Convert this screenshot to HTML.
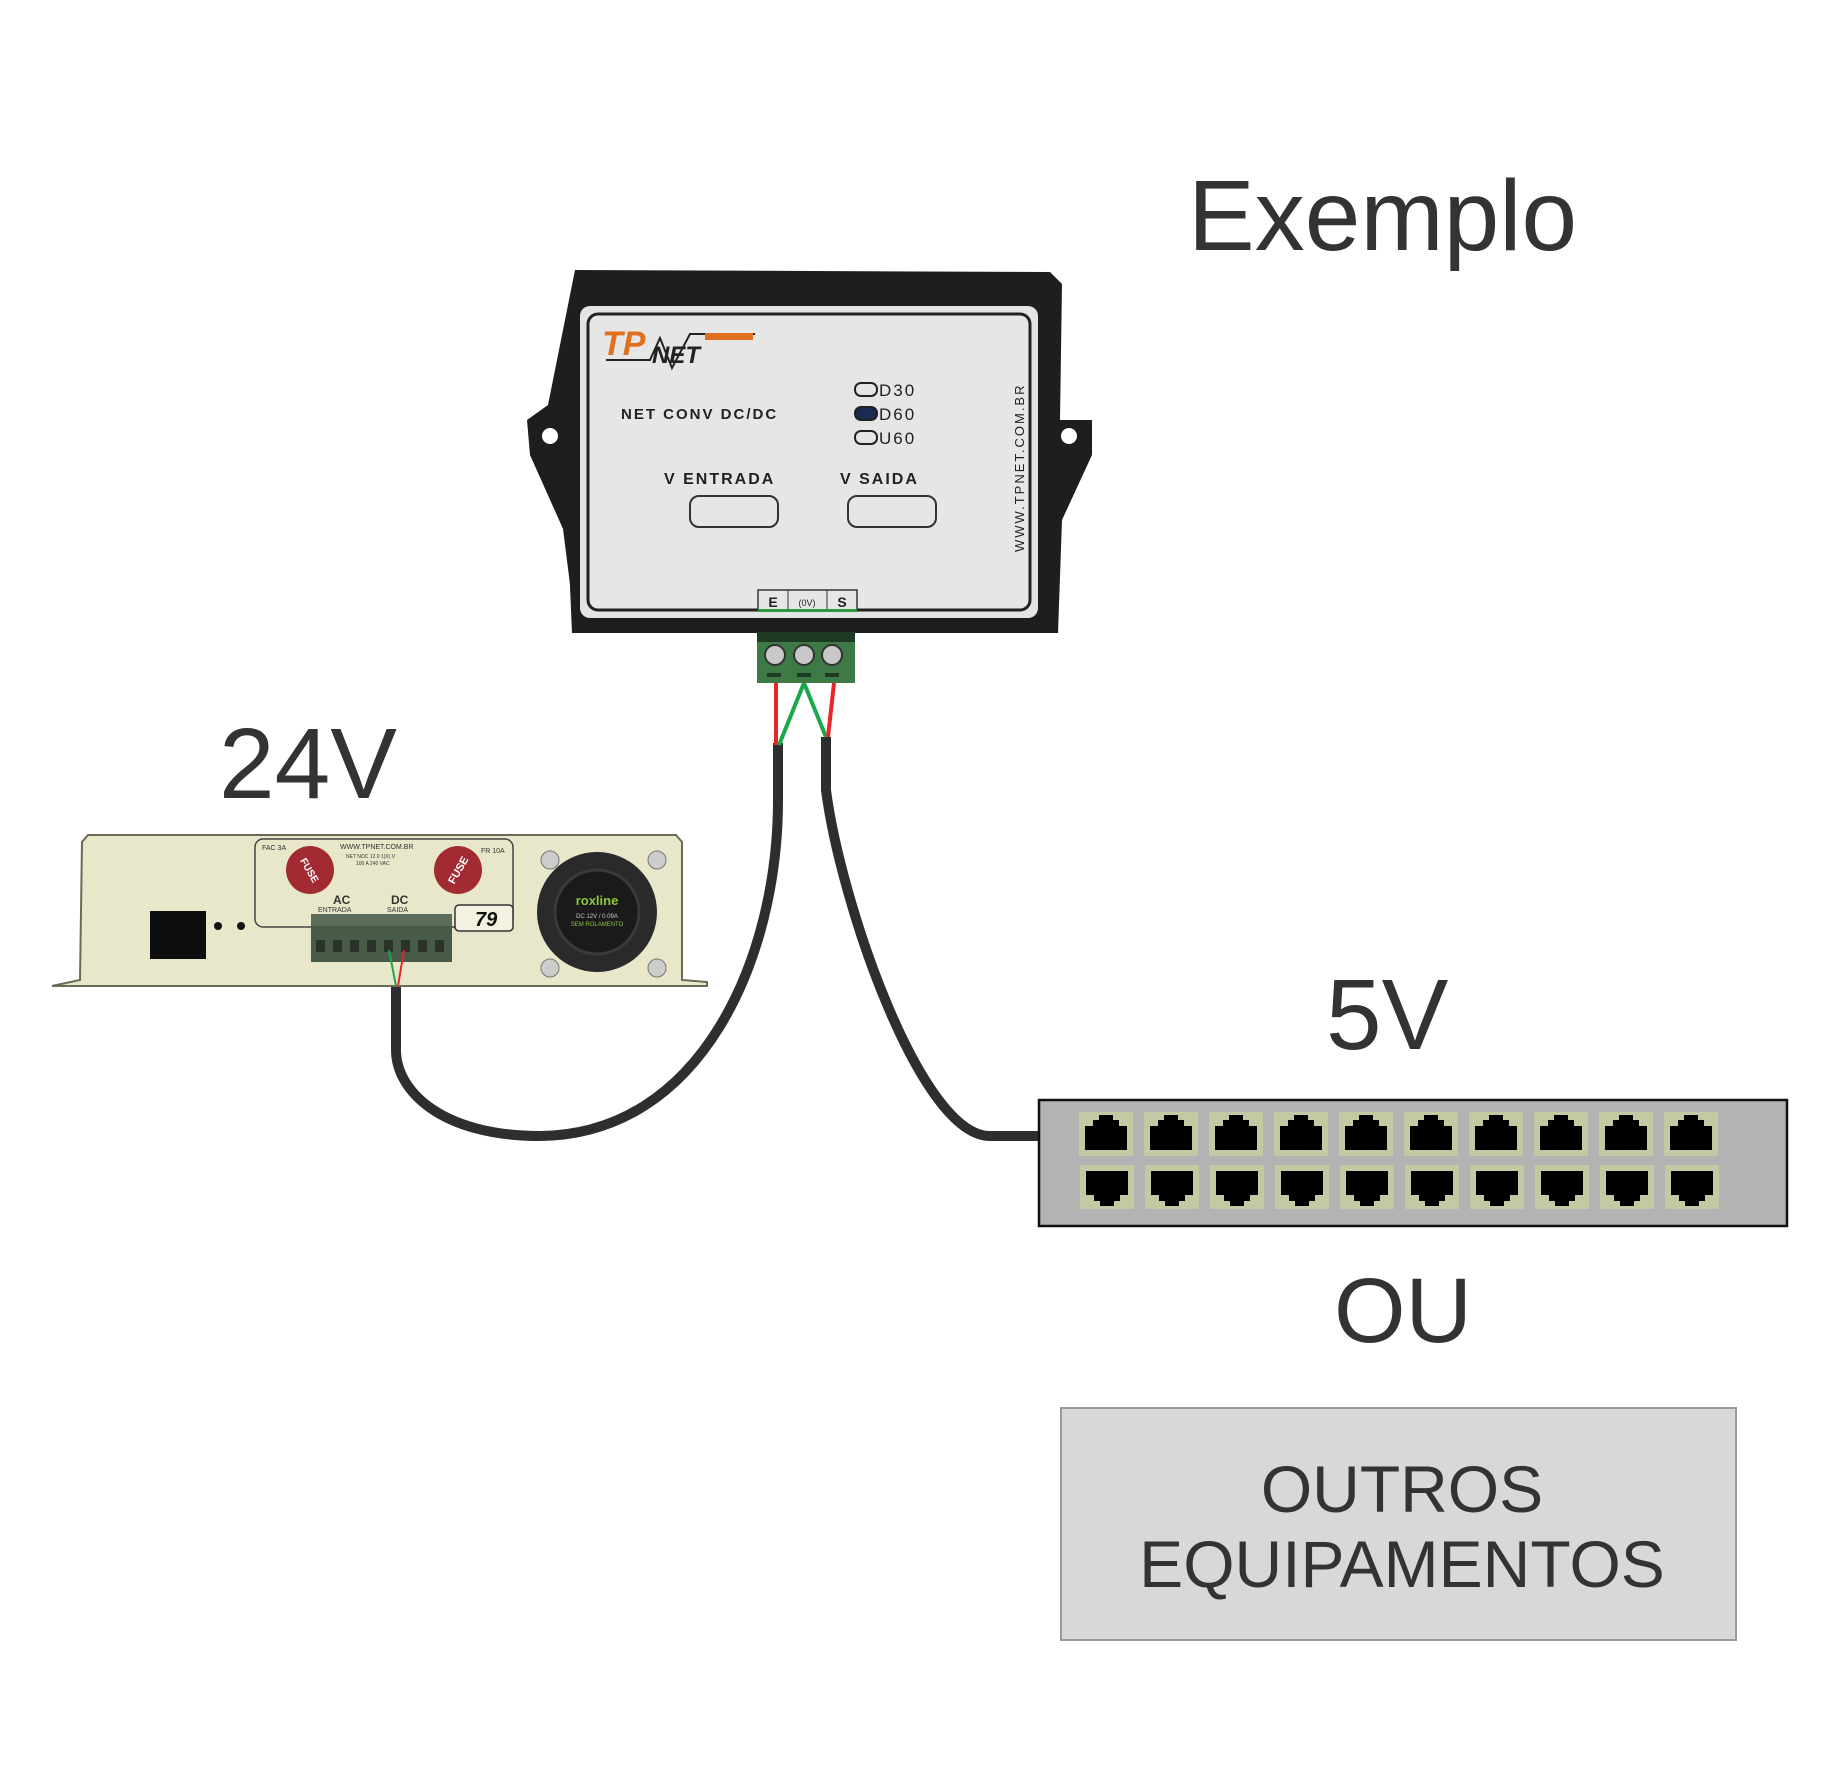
<!DOCTYPE html>
<html><head><meta charset="utf-8"><style>
html,body{margin:0;padding:0;background:#fff;}
svg{display:block;}
text{font-family:"Liberation Sans",Arial,sans-serif;}
</style></head><body>
<svg width="1825" height="1768" viewBox="0 0 1825 1768" xmlns="http://www.w3.org/2000/svg">
<rect width="1825" height="1768" fill="#fff"/>
<text x="1188" y="250" font-size="100" fill="#333">Exemplo</text>
<text x="219" y="798" font-size="100" fill="#333">24V</text>
<text x="1326" y="1049" font-size="100" fill="#333">5V</text>
<text x="1334" y="1342" font-size="92" fill="#333">OU</text>

<rect x="1061" y="1408" width="675" height="232" fill="#d8d8d6" stroke="#9a9a9a" stroke-width="2"/>
<text x="1402" y="1512" font-size="66" fill="#333" text-anchor="middle">OUTROS</text>
<text x="1402" y="1587" font-size="66" fill="#333" text-anchor="middle">EQUIPAMENTOS</text>

<path d="M778 743 L778 800 C778 960 700 1135 540 1136 C440 1136 396 1090 396 1050 L396 986" fill="none" stroke="#2e2e2e" stroke-width="10"/>
<path d="M826 737 L826 790 C840 900 920 1136 990 1136 L1040 1136" fill="none" stroke="#2e2e2e" stroke-width="10"/>
<line x1="776" y1="683" x2="776" y2="745" stroke="#e8262a" stroke-width="4"/>
<line x1="804" y1="683" x2="779" y2="745" stroke="#1aa84a" stroke-width="4"/>
<line x1="804" y1="683" x2="826" y2="737" stroke="#1aa84a" stroke-width="4"/>
<line x1="834" y1="683" x2="828" y2="737" stroke="#e8262a" stroke-width="4"/>

<path d="M575 270 L1050 272 L1062 284 L1060 420 L1092 420 L1092 455 L1062 520 L1058 633 L572 633 L568 540 L530 455 L527 420 L548 405 Z" fill="#1e1e1e"/>
<path d="M548 410 L572 290 L572 600 Z" fill="#1e1e1e"/>
<circle cx="550" cy="436" r="8" fill="#fff"/>
<circle cx="1069" cy="436" r="8" fill="#fff"/>
<rect x="580" y="306" width="458" height="312" rx="10" fill="#e4e4e4"/>
<rect x="588" y="314" width="442" height="296" rx="10" fill="#e6e6e6" stroke="#222" stroke-width="3"/>
<text x="602" y="355" font-size="34" font-weight="bold" font-style="italic" fill="#e07020">TP</text>
<text x="652" y="363" font-size="24" font-weight="bold" font-style="italic" fill="#222">NET</text>
<path d="M606 360 L650 360 L660 338 L672 368 L690 334 L755 334" fill="none" stroke="#222" stroke-width="2"/>
<rect x="705" y="333" width="48" height="7" fill="#e07020"/>
<text x="621" y="419" font-size="15" fill="#222" letter-spacing="2" font-weight="bold">NET CONV DC/DC</text>
<rect x="855" y="383" width="22" height="13" rx="6" fill="none" stroke="#222" stroke-width="2"/>
<rect x="855" y="407" width="22" height="13" rx="6" fill="#1a2a50" stroke="#222" stroke-width="2"/>
<rect x="855" y="431" width="22" height="13" rx="6" fill="none" stroke="#222" stroke-width="2"/>
<text x="879" y="396" font-size="17" fill="#222" letter-spacing="2">D30</text>
<text x="879" y="420" font-size="17" fill="#222" letter-spacing="2">D60</text>
<text x="879" y="444" font-size="17" fill="#222" letter-spacing="2">U60</text>
<text x="664" y="484" font-size="16" fill="#222" letter-spacing="2" font-weight="bold">V ENTRADA</text>
<text x="840" y="484" font-size="16" fill="#222" letter-spacing="2" font-weight="bold">V SAIDA</text>
<rect x="690" y="496" width="88" height="31" rx="9" fill="none" stroke="#333" stroke-width="2"/>
<rect x="848" y="496" width="88" height="31" rx="9" fill="none" stroke="#333" stroke-width="2"/>
<text transform="translate(1024,552) rotate(-90)" font-size="13" fill="#222" letter-spacing="2">WWW.TPNET.COM.BR</text>
<rect x="758" y="590" width="99" height="21" fill="#e6e6e6" stroke="#333" stroke-width="1.5"/>
<line x1="788" y1="590" x2="788" y2="611" stroke="#333"/>
<line x1="827" y1="590" x2="827" y2="611" stroke="#333"/>
<rect x="758" y="609" width="99" height="3" fill="#2a9a40"/>
<text x="773" y="607" font-size="14" text-anchor="middle" fill="#222" font-weight="bold">E</text>
<text x="807" y="606" font-size="9" text-anchor="middle" fill="#222">(0V)</text>
<text x="842" y="607" font-size="14" text-anchor="middle" fill="#222" font-weight="bold">S</text>
<rect x="757" y="632" width="98" height="51" fill="#3d7a45"/>
<rect x="757" y="632" width="98" height="10" fill="#1f3a22"/>
<circle cx="775" cy="655" r="10" fill="#c8c8c8" stroke="#333" stroke-width="2"/>
<circle cx="804" cy="655" r="10" fill="#c8c8c8" stroke="#333" stroke-width="2"/>
<circle cx="832" cy="655" r="10" fill="#c8c8c8" stroke="#333" stroke-width="2"/>
<rect x="767" y="673" width="14" height="4" fill="#1f3a22"/><rect x="797" y="673" width="14" height="4" fill="#1f3a22"/><rect x="825" y="673" width="14" height="4" fill="#1f3a22"/>

<path d="M52 986 L80 980 L82 842 L88 835 L676 835 L682 842 L682 980 L707 982 L707 986 Z" fill="#e9e7c9" stroke="#6a6a55" stroke-width="2"/>
<rect x="255" y="839" width="258" height="88" rx="8" fill="none" stroke="#444" stroke-width="1.5"/>
<text x="262" y="850" font-size="7" fill="#333">FAC 3A</text>
<text x="340" y="849" font-size="7" fill="#333">WWW.TPNET.COM.BR</text>
<text x="346" y="858" font-size="5" fill="#333">NET NOC 12.0 1(X) V</text>
<text x="356" y="865" font-size="5" fill="#333">100 A 240 VAC</text>
<text x="481" y="853" font-size="7" fill="#333">FR 10A</text>
<circle cx="310" cy="870" r="24" fill="#a22a32"/>
<circle cx="458" cy="870" r="24" fill="#a22a32"/>
<text x="310" y="874" font-size="10" fill="#fff" text-anchor="middle" font-weight="bold" transform="rotate(60 310 870)">FUSE</text>
<text x="458" y="874" font-size="11" fill="#fff" text-anchor="middle" font-weight="bold" transform="rotate(-60 458 870)">FUSE</text>
<text x="333" y="904" font-size="12" fill="#333" font-weight="bold">AC</text>
<text x="318" y="912" font-size="7" fill="#333">ENTRADA</text>
<text x="391" y="904" font-size="12" fill="#333" font-weight="bold">DC</text>
<text x="387" y="912" font-size="7" fill="#333">SAIDA</text>
<rect x="455" y="905" width="58" height="26" rx="4" fill="#f3f2e0" stroke="#333" stroke-width="1.5"/>
<text x="475" y="926" font-size="20" font-style="italic" font-weight="bold" fill="#111">79</text>
<rect x="311" y="914" width="141" height="48" fill="#485a48"/>
<rect x="311" y="914" width="141" height="12" fill="#5a6c5a"/>
<g fill="#2a322a"><rect x="316" y="940" width="9" height="12"/><rect x="333" y="940" width="9" height="12"/><rect x="350" y="940" width="9" height="12"/><rect x="367" y="940" width="9" height="12"/><rect x="384" y="940" width="9" height="12"/><rect x="401" y="940" width="9" height="12"/><rect x="418" y="940" width="9" height="12"/><rect x="435" y="940" width="9" height="12"/></g>
<line x1="389" y1="950" x2="396" y2="986" stroke="#1aa84a" stroke-width="2"/>
<line x1="404" y1="950" x2="398" y2="986" stroke="#e8262a" stroke-width="2"/>
<rect x="150" y="911" width="56" height="48" fill="#0e0e0e"/>
<circle cx="218" cy="926" r="4" fill="#111"/><circle cx="241" cy="926" r="4" fill="#111"/>
<circle cx="597" cy="912" r="60" fill="#2a2a2a"/>
<circle cx="597" cy="912" r="42" fill="#1a1a1a" stroke="#3a3a3a" stroke-width="3"/>
<text x="597" y="905" font-size="13" fill="#8dc63f" text-anchor="middle" font-weight="bold">roxline</text>
<text x="597" y="918" font-size="6" fill="#ccc" text-anchor="middle">DC 12V / 0.09A</text>
<text x="597" y="926" font-size="6" fill="#8dc63f" text-anchor="middle">SEM ROLAMENTO</text>
<circle cx="550" cy="860" r="9" fill="#ccc" stroke="#777"/><circle cx="657" cy="860" r="9" fill="#ccc" stroke="#777"/>
<circle cx="550" cy="968" r="9" fill="#ccc" stroke="#777"/><circle cx="657" cy="968" r="9" fill="#ccc" stroke="#777"/>

<rect x="1039" y="1100" width="748" height="126" fill="#b3b3b3" stroke="#111" stroke-width="2.5"/>
<defs>
<g id="pt"><rect x="0" y="0" width="54" height="44" fill="#c5c9a3"/><path d="M6 38 L6 14 L14 14 L14 8 L20 8 L20 3 L34 3 L34 8 L40 8 L40 14 L48 14 L48 38 Z" fill="#000"/></g>
<g id="pb"><rect x="0" y="0" width="54" height="44" fill="#c5c9a3"/><path d="M6 6 L48 6 L48 30 L40 30 L40 36 L34 36 L34 41 L20 41 L20 36 L14 36 L14 30 L6 30 Z" fill="#000"/></g>
</defs>
<use href="#pt" x="1079" y="1112"/><use href="#pt" x="1144" y="1112"/><use href="#pt" x="1209" y="1112"/><use href="#pt" x="1274" y="1112"/><use href="#pt" x="1339" y="1112"/><use href="#pt" x="1404" y="1112"/><use href="#pt" x="1469" y="1112"/><use href="#pt" x="1534" y="1112"/><use href="#pt" x="1599" y="1112"/><use href="#pt" x="1664" y="1112"/>
<use href="#pb" x="1080" y="1165"/><use href="#pb" x="1145" y="1165"/><use href="#pb" x="1210" y="1165"/><use href="#pb" x="1275" y="1165"/><use href="#pb" x="1340" y="1165"/><use href="#pb" x="1405" y="1165"/><use href="#pb" x="1470" y="1165"/><use href="#pb" x="1535" y="1165"/><use href="#pb" x="1600" y="1165"/><use href="#pb" x="1665" y="1165"/>
</svg>
</body></html>
